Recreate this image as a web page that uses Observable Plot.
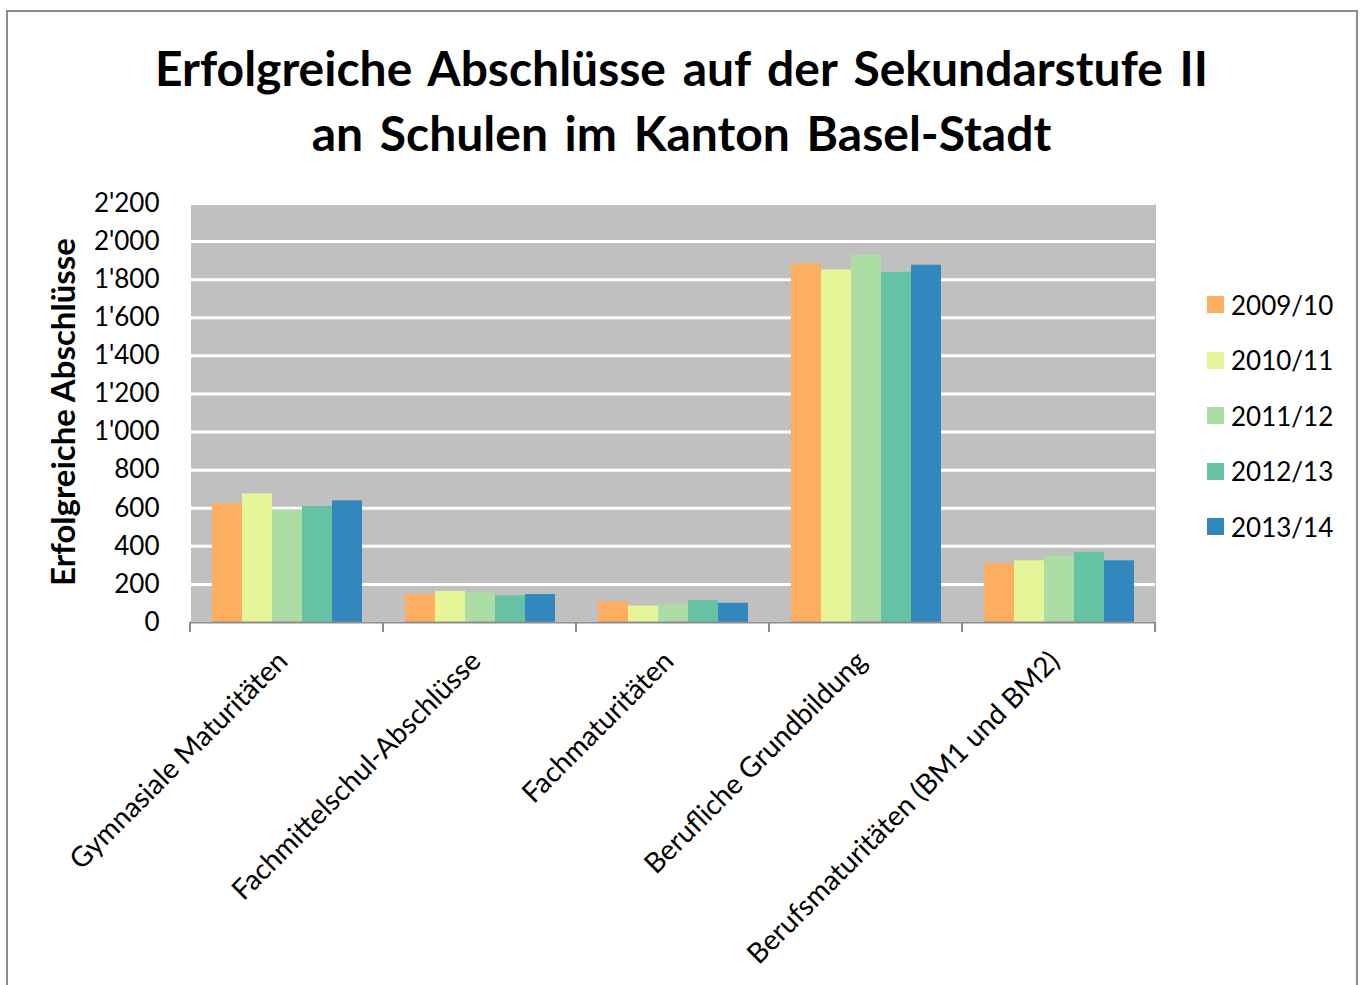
<!DOCTYPE html>
<html><head><meta charset="utf-8">
<script src="https://cdn.jsdelivr.net/npm/d3@7"></script>
<script src="https://cdn.jsdelivr.net/npm/@observablehq/plot@0.6"></script>
<style>
body{margin:0;background:#fff;font-family:Lato,sans-serif;}
#wrap{position:relative;width:1363px;height:985px;overflow:hidden;}
#border{position:absolute;left:6px;top:10px;width:1352px;height:1100px;border:2px solid #8c8c8c;box-sizing:border-box;}
#chart{position:absolute;left:0;top:0;}
#title{position:absolute;left:0;width:1363px;top:35px;text-align:center;font-weight:bold;font-size:48px;line-height:65px;color:#000;word-spacing:5px;}
#ylabel{position:absolute;left:62px;top:412px;transform:translate(-50%,-50%) rotate(-90deg);font-weight:bold;font-size:33px;white-space:nowrap;color:#000;}
#legend{position:absolute;left:1207px;top:277px;font-size:26px;color:#000;}
#legend .item{display:flex;align-items:center;height:55.5px;}
#legend .sw{width:17px;height:17px;margin-right:7px;}
</style></head>
<body><div id="wrap"><div id="border"></div><div id="chart"></div>
<div id="title">Erfolgreiche Abschlüsse auf der Sekundarstufe II<br>an Schulen im Kanton Basel-Stadt</div>
<div id="ylabel">Erfolgreiche Abschlüsse</div>
<div id="legend"></div></div>
<script>
const categories = ["Gymnasiale Maturitäten","Fachmittelschul-Abschlüsse","Fachmaturitäten","Berufliche Grundbildung","Berufsmaturitäten (BM1 und BM2)"];
const years = ["2009/10","2010/11","2011/12","2012/13","2013/14"];
const v2009_10 = [623,147,109,1883,310];
const v2010_11 = [675,163,86,1851,324];
const v2011_12 = [591,154,93,1928,348];
const v2012_13 = [609,140,116,1838,369];
const v2013_14 = [639,147,101,1876,324];
const colors = ["#fdae61","#e6f598","#abdda4","#66c2a5","#3288bd"];
const yTicks = d3.range(0,2201,200);

const series = [v2009_10,v2010_11,v2011_12,v2012_13,v2013_14];
const data = [];
categories.forEach((c,i)=>years.forEach((yr,j)=>data.push({cat:c,year:yr,value:series[j][i]})));

const loc = d3.formatLocale({decimal:".",thousands:"'",grouping:[3],currency:["",""]});
const fmt = loc.format(",d");

const plot = Plot.plot({
  width:1363, height:985,
  marginLeft:189, marginRight:207, marginTop:203, marginBottom:363,
  style:{fontFamily:"Lato, sans-serif", color:"#000", background:"transparent"},
  fx:{domain:categories, padding:0, label:null, axis:null},
  x:{domain:years, paddingInner:0, paddingOuter:0.66, axis:null},
  y:{domain:[0,2200], label:null},
  color:{domain:years, range:colors},
  marks:[
    Plot.frame({fill:"#c0c0c0", shapeRendering:"crispEdges"}),
    Plot.gridY(yTicks,{stroke:"#fff",strokeWidth:3,strokeOpacity:1}),
    Plot.barY(data,{fx:"cat",x:"year",y:"value",fill:"year",insetLeft:0,insetRight:0}),
    Plot.ruleY([0],{stroke:"#8c8c8c",strokeWidth:2}),
    Plot.axisY(yTicks,{tickSize:0,tickPadding:31,fontSize:26,tickFormat:fmt,label:null}),
    Plot.axisFx({anchor:"bottom",tickSize:0,tickRotate:-45,tickPadding:34,dx:-4,fontSize:28,label:null})
  ]
});
document.getElementById("chart").appendChild(plot);

// tick marks at category boundaries, using the plot's own scales
const fx = Plot.scale({fx: plot.scale("fx")});
const ys = Plot.scale({y: plot.scale("y")});
const y0 = ys.apply(0);
const bounds = categories.map(c=>fx.apply(c)).concat([fx.apply(categories[categories.length-1])+fx.bandwidth]);
const svg = d3.select(plot);
svg.append("g").selectAll("line").data(bounds).join("line")
  .attr("x1",d=>d).attr("x2",d=>d).attr("y1",y0).attr("y2",y0+10)
  .attr("stroke","#8c8c8c").attr("stroke-width",2);

const lg = d3.select("#legend");
years.forEach((yr,i)=>{
  const it = lg.append("div").attr("class","item");
  it.append("div").attr("class","sw").style("background",colors[i]);
  it.append("span").text(yr);
});
</script></body></html>
